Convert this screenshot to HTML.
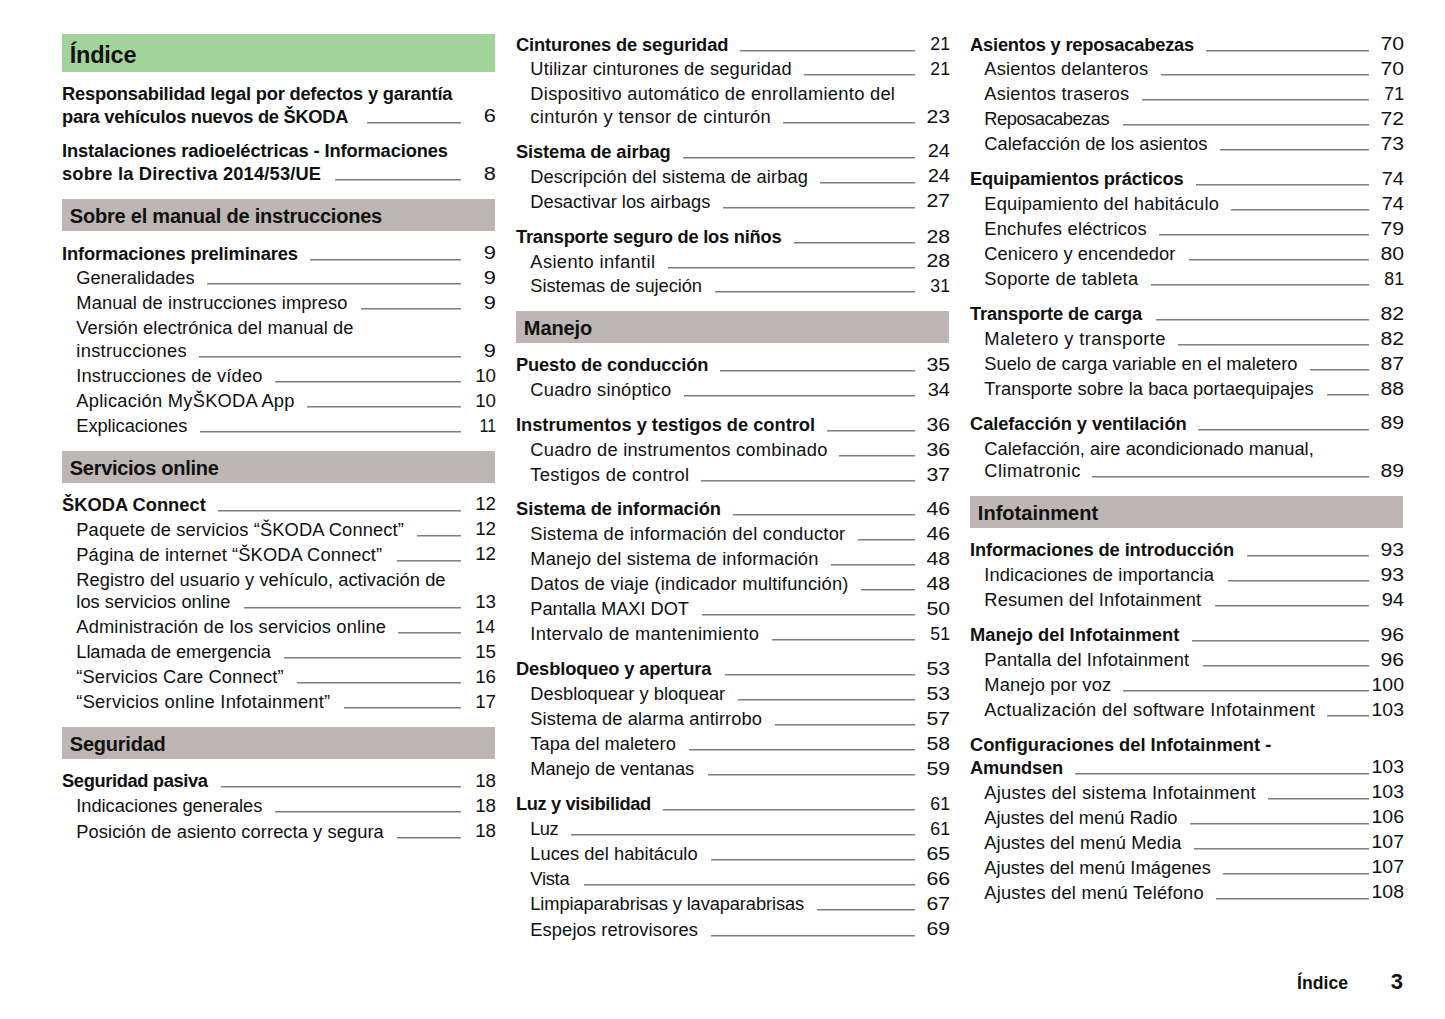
<!DOCTYPE html>
<html><head><meta charset="utf-8"><style>
html,body{margin:0;padding:0;background:#fff;}
body{width:1445px;height:1019px;position:relative;overflow:hidden;font-family:"Liberation Sans",sans-serif;color:#111;}
.t,.pg{position:absolute;white-space:nowrap;line-height:1;}
.pg{width:80px;text-align:right;transform-origin:100% 50%;}
.bx{position:absolute;}
.ld{position:absolute;height:2px;background:linear-gradient(#808080 50%,#bcbcbc 50%);}
</style></head><body>
<div class="bx" style="left:62px;top:34px;width:433px;height:38px;background:#a2d39b"></div>
<div class="bx" style="left:62px;top:199px;width:433px;height:32px;background:#bdb6b4"></div>
<div class="bx" style="left:62px;top:451px;width:433px;height:32px;background:#bdb6b4"></div>
<div class="bx" style="left:62px;top:727px;width:433px;height:32px;background:#bdb6b4"></div>
<div class="bx" style="left:516px;top:311px;width:433px;height:32px;background:#bdb6b4"></div>
<div class="bx" style="left:970px;top:496px;width:433px;height:32px;background:#bdb6b4"></div>
<div class="t" style="left:69.8px;top:43.61px;font-size:23.5px;font-weight:bold;letter-spacing:-0.240px;">Índice</div>
<div class="t" style="left:62px;top:85.41px;font-size:18.3px;font-weight:bold;letter-spacing:-0.200px;">Responsabilidad legal por defectos y garantía</div>
<div class="t" style="left:62px;top:107.71px;font-size:18.3px;font-weight:bold;letter-spacing:-0.283px;">para vehículos nuevos de ŠKODA</div>
<div class="t" style="left:62px;top:142.41px;font-size:18.3px;font-weight:bold;letter-spacing:-0.118px;">Instalaciones radioeléctricas - Informaciones</div>
<div class="t" style="left:62px;top:165.01px;font-size:18.3px;font-weight:bold;letter-spacing:0.179px;">sobre la Directiva 2014/53/UE</div>
<div class="t" style="left:69.8px;top:206.17px;font-size:20px;font-weight:bold;letter-spacing:-0.213px;">Sobre el manual de instrucciones</div>
<div class="t" style="left:62px;top:244.61px;font-size:18.3px;font-weight:bold;letter-spacing:-0.112px;">Informaciones preliminares</div>
<div class="t" style="left:76.3px;top:269.41px;font-size:18.3px;letter-spacing:-0.050px;">Generalidades</div>
<div class="t" style="left:76.3px;top:294.41px;font-size:18.3px;letter-spacing:0.133px;">Manual de instrucciones impreso</div>
<div class="t" style="left:76.3px;top:319.41px;font-size:18.3px;letter-spacing:0.087px;">Versión electrónica del manual de</div>
<div class="t" style="left:76.3px;top:341.91px;font-size:18.3px;letter-spacing:0.300px;">instrucciones</div>
<div class="t" style="left:76.3px;top:366.91px;font-size:18.3px;letter-spacing:0.152px;">Instrucciones de vídeo</div>
<div class="t" style="left:76.3px;top:391.91px;font-size:18.3px;letter-spacing:0.276px;">Aplicación MyŠKODA App</div>
<div class="t" style="left:76.3px;top:417.21px;font-size:18.3px;letter-spacing:-0.067px;">Explicaciones</div>
<div class="t" style="left:69.8px;top:457.67px;font-size:20px;font-weight:bold;letter-spacing:-0.293px;">Servicios online</div>
<div class="t" style="left:62px;top:495.71px;font-size:18.3px;font-weight:bold;letter-spacing:0.017px;">ŠKODA Connect</div>
<div class="t" style="left:76.3px;top:520.71px;font-size:18.3px;letter-spacing:0.126px;">Paquete de servicios “ŠKODA Connect”</div>
<div class="t" style="left:76.3px;top:545.71px;font-size:18.3px;letter-spacing:0.121px;">Página de internet “ŠKODA Connect”</div>
<div class="t" style="left:76.3px;top:570.71px;font-size:18.3px;letter-spacing:0.053px;">Registro del usuario y vehículo, activación de</div>
<div class="t" style="left:76.3px;top:593.21px;font-size:18.3px;letter-spacing:0.032px;">los servicios online</div>
<div class="t" style="left:76.3px;top:618.21px;font-size:18.3px;letter-spacing:0.157px;">Administración de los servicios online</div>
<div class="t" style="left:76.3px;top:643.21px;font-size:18.3px;letter-spacing:-0.080px;">Llamada de emergencia</div>
<div class="t" style="left:76.3px;top:668.21px;font-size:18.3px;letter-spacing:0.130px;">“Servicios Care Connect”</div>
<div class="t" style="left:76.3px;top:693.21px;font-size:18.3px;letter-spacing:0.267px;">“Servicios online Infotainment”</div>
<div class="t" style="left:69.8px;top:733.67px;font-size:20px;font-weight:bold;letter-spacing:-0.225px;">Seguridad</div>
<div class="t" style="left:62px;top:772.41px;font-size:18.3px;font-weight:bold;letter-spacing:-0.360px;">Seguridad pasiva</div>
<div class="t" style="left:76.3px;top:797.41px;font-size:18.3px;letter-spacing:-0.048px;">Indicaciones generales</div>
<div class="t" style="left:76.3px;top:822.61px;font-size:18.3px;letter-spacing:0.072px;">Posición de asiento correcta y segura</div>
<div class="t" style="left:516px;top:35.61px;font-size:18.3px;font-weight:bold;letter-spacing:-0.136px;">Cinturones de seguridad</div>
<div class="t" style="left:530.3px;top:60.41px;font-size:18.3px;letter-spacing:0.168px;">Utilizar cinturones de seguridad</div>
<div class="t" style="left:530.3px;top:85.41px;font-size:18.3px;letter-spacing:0.286px;">Dispositivo automático de enrollamiento del</div>
<div class="t" style="left:530.3px;top:107.91px;font-size:18.3px;letter-spacing:0.350px;">cinturón y tensor de cinturón</div>
<div class="t" style="left:516px;top:142.61px;font-size:18.3px;font-weight:bold;letter-spacing:-0.113px;">Sistema de airbag</div>
<div class="t" style="left:530.3px;top:167.61px;font-size:18.3px;letter-spacing:0.100px;">Descripción del sistema de airbag</div>
<div class="t" style="left:530.3px;top:192.61px;font-size:18.3px;letter-spacing:0.010px;">Desactivar los airbags</div>
<div class="t" style="left:516px;top:227.91px;font-size:18.3px;font-weight:bold;letter-spacing:-0.228px;">Transporte seguro de los niños</div>
<div class="t" style="left:530.3px;top:252.61px;font-size:18.3px;letter-spacing:0.387px;">Asiento infantil</div>
<div class="t" style="left:530.3px;top:277.41px;font-size:18.3px;letter-spacing:-0.053px;">Sistemas de sujeción</div>
<div class="t" style="left:523.8px;top:317.67px;font-size:20px;font-weight:bold;letter-spacing:-0.080px;">Manejo</div>
<div class="t" style="left:516px;top:356.01px;font-size:18.3px;font-weight:bold;letter-spacing:-0.137px;">Puesto de conducción</div>
<div class="t" style="left:530.3px;top:381.01px;font-size:18.3px;letter-spacing:0.240px;">Cuadro sinóptico</div>
<div class="t" style="left:516px;top:416.01px;font-size:18.3px;font-weight:bold;letter-spacing:-0.018px;">Instrumentos y testigos de control</div>
<div class="t" style="left:530.3px;top:441.01px;font-size:18.3px;letter-spacing:0.239px;">Cuadro de instrumentos combinado</div>
<div class="t" style="left:530.3px;top:466.01px;font-size:18.3px;letter-spacing:0.356px;">Testigos de control</div>
<div class="t" style="left:516px;top:500.21px;font-size:18.3px;font-weight:bold;letter-spacing:-0.057px;">Sistema de información</div>
<div class="t" style="left:530.3px;top:525.21px;font-size:18.3px;letter-spacing:0.257px;">Sistema de información del conductor</div>
<div class="t" style="left:530.3px;top:550.21px;font-size:18.3px;letter-spacing:0.175px;">Manejo del sistema de información</div>
<div class="t" style="left:530.3px;top:575.21px;font-size:18.3px;letter-spacing:0.216px;">Datos de viaje (indicador multifunción)</div>
<div class="t" style="left:530.3px;top:600.21px;font-size:18.3px;letter-spacing:-0.050px;">Pantalla MAXI DOT</div>
<div class="t" style="left:530.3px;top:625.21px;font-size:18.3px;letter-spacing:0.320px;">Intervalo de mantenimiento</div>
<div class="t" style="left:516px;top:660.21px;font-size:18.3px;font-weight:bold;letter-spacing:-0.130px;">Desbloqueo y apertura</div>
<div class="t" style="left:530.3px;top:685.21px;font-size:18.3px;letter-spacing:0.038px;">Desbloquear y bloquear</div>
<div class="t" style="left:530.3px;top:710.21px;font-size:18.3px;letter-spacing:0.077px;">Sistema de alarma antirrobo</div>
<div class="t" style="left:530.3px;top:735.21px;font-size:18.3px;letter-spacing:0.012px;">Tapa del maletero</div>
<div class="t" style="left:530.3px;top:760.21px;font-size:18.3px;letter-spacing:-0.047px;">Manejo de ventanas</div>
<div class="t" style="left:516px;top:795.21px;font-size:18.3px;font-weight:bold;letter-spacing:-0.375px;">Luz y visibilidad</div>
<div class="t" style="left:530.3px;top:820.21px;font-size:18.3px;letter-spacing:-0.600px;">Luz</div>
<div class="t" style="left:530.3px;top:845.21px;font-size:18.3px;letter-spacing:0.032px;">Luces del habitáculo</div>
<div class="t" style="left:530.3px;top:870.21px;font-size:18.3px;letter-spacing:-0.250px;">Vista</div>
<div class="t" style="left:530.3px;top:895.21px;font-size:18.3px;letter-spacing:-0.112px;">Limpiaparabrisas y lavaparabrisas</div>
<div class="t" style="left:530.3px;top:920.61px;font-size:18.3px;letter-spacing:0.105px;">Espejos retrovisores</div>
<div class="t" style="left:970px;top:35.61px;font-size:18.3px;font-weight:bold;letter-spacing:-0.191px;">Asientos y reposacabezas</div>
<div class="t" style="left:984.3px;top:60.41px;font-size:18.3px;letter-spacing:0.178px;">Asientos delanteros</div>
<div class="t" style="left:984.3px;top:85.41px;font-size:18.3px;letter-spacing:0.225px;">Asientos traseros</div>
<div class="t" style="left:984.3px;top:110.41px;font-size:18.3px;letter-spacing:-0.483px;">Reposacabezas</div>
<div class="t" style="left:984.3px;top:135.41px;font-size:18.3px;letter-spacing:0.023px;">Calefacción de los asientos</div>
<div class="t" style="left:970px;top:170.21px;font-size:18.3px;font-weight:bold;letter-spacing:-0.164px;">Equipamientos prácticos</div>
<div class="t" style="left:984.3px;top:195.21px;font-size:18.3px;letter-spacing:0.185px;">Equipamiento del habitáculo</div>
<div class="t" style="left:984.3px;top:220.21px;font-size:18.3px;letter-spacing:0.211px;">Enchufes eléctricos</div>
<div class="t" style="left:984.3px;top:245.21px;font-size:18.3px;letter-spacing:0.100px;">Cenicero y encendedor</div>
<div class="t" style="left:984.3px;top:270.21px;font-size:18.3px;letter-spacing:0.259px;">Soporte de tableta</div>
<div class="t" style="left:970px;top:305.01px;font-size:18.3px;font-weight:bold;letter-spacing:-0.144px;">Transporte de carga</div>
<div class="t" style="left:984.3px;top:330.01px;font-size:18.3px;letter-spacing:0.420px;">Maletero y transporte</div>
<div class="t" style="left:984.3px;top:355.01px;font-size:18.3px;letter-spacing:0.005px;">Suelo de carga variable en el maletero</div>
<div class="t" style="left:984.3px;top:380.01px;font-size:18.3px;letter-spacing:0.047px;">Transporte sobre la baca portaequipajes</div>
<div class="t" style="left:970px;top:414.81px;font-size:18.3px;font-weight:bold;letter-spacing:-0.075px;">Calefacción y ventilación</div>
<div class="t" style="left:984.3px;top:439.81px;font-size:18.3px;letter-spacing:0.005px;">Calefacción, aire acondicionado manual,</div>
<div class="t" style="left:984.3px;top:462.31px;font-size:18.3px;letter-spacing:0.460px;">Climatronic</div>
<div class="t" style="left:977.8px;top:503.17px;font-size:20px;font-weight:bold;letter-spacing:0.036px;">Infotainment</div>
<div class="t" style="left:970px;top:541.41px;font-size:18.3px;font-weight:bold;letter-spacing:-0.107px;">Informaciones de introducción</div>
<div class="t" style="left:984.3px;top:566.41px;font-size:18.3px;letter-spacing:0.115px;">Indicaciones de importancia</div>
<div class="t" style="left:984.3px;top:591.41px;font-size:18.3px;letter-spacing:0.148px;">Resumen del Infotainment</div>
<div class="t" style="left:970px;top:626.41px;font-size:18.3px;font-weight:bold;">Manejo del Infotainment</div>
<div class="t" style="left:984.3px;top:651.41px;font-size:18.3px;letter-spacing:0.150px;">Pantalla del Infotainment</div>
<div class="t" style="left:984.3px;top:676.41px;font-size:18.3px;letter-spacing:0.138px;">Manejo por voz</div>
<div class="t" style="left:984.3px;top:701.41px;font-size:18.3px;letter-spacing:0.353px;">Actualización del software Infotainment</div>
<div class="t" style="left:970px;top:736.21px;font-size:18.3px;font-weight:bold;letter-spacing:-0.012px;">Configuraciones del Infotainment -</div>
<div class="t" style="left:970px;top:758.71px;font-size:18.3px;font-weight:bold;letter-spacing:-0.171px;">Amundsen</div>
<div class="t" style="left:984.3px;top:783.71px;font-size:18.3px;letter-spacing:0.258px;">Ajustes del sistema Infotainment</div>
<div class="t" style="left:984.3px;top:808.71px;font-size:18.3px;">Ajustes del menú Radio</div>
<div class="t" style="left:984.3px;top:833.71px;font-size:18.3px;letter-spacing:0.095px;">Ajustes del menú Media</div>
<div class="t" style="left:984.3px;top:858.71px;font-size:18.3px;letter-spacing:0.042px;">Ajustes del menú Imágenes</div>
<div class="t" style="left:984.3px;top:883.71px;font-size:18.3px;letter-spacing:0.217px;">Ajustes del menú Teléfono</div>
<div class="t" style="left:1297px;top:975.40px;font-size:17.6px;font-weight:bold;letter-spacing:0.040px;">Índice</div>
<div class="ld" style="left:366.7px;top:121.7px;width:94.0px"></div>
<div class="ld" style="left:334.6px;top:179.0px;width:126.1px"></div>
<div class="ld" style="left:310.0px;top:258.6px;width:150.7px"></div>
<div class="ld" style="left:206.5px;top:283.4px;width:254.2px"></div>
<div class="ld" style="left:360.5px;top:308.4px;width:100.2px"></div>
<div class="ld" style="left:199.1px;top:355.9px;width:261.6px"></div>
<div class="ld" style="left:274.6px;top:380.9px;width:186.1px"></div>
<div class="ld" style="left:306.9px;top:405.9px;width:153.8px"></div>
<div class="ld" style="left:199.7px;top:431.2px;width:261.0px"></div>
<div class="ld" style="left:218.2px;top:509.7px;width:242.5px"></div>
<div class="ld" style="left:416.9px;top:534.7px;width:43.8px"></div>
<div class="ld" style="left:396.9px;top:559.7px;width:63.8px"></div>
<div class="ld" style="left:243.5px;top:607.2px;width:217.2px"></div>
<div class="ld" style="left:398.4px;top:632.2px;width:62.3px"></div>
<div class="ld" style="left:284.4px;top:657.2px;width:176.3px"></div>
<div class="ld" style="left:296.8px;top:682.2px;width:163.9px"></div>
<div class="ld" style="left:343.9px;top:707.2px;width:116.8px"></div>
<div class="ld" style="left:221.3px;top:786.4px;width:239.4px"></div>
<div class="ld" style="left:275.2px;top:811.4px;width:185.5px"></div>
<div class="ld" style="left:396.9px;top:836.6px;width:63.8px"></div>
<div class="ld" style="left:740.0px;top:49.6px;width:174.7px"></div>
<div class="ld" style="left:804.0px;top:74.4px;width:110.7px"></div>
<div class="ld" style="left:783.1px;top:121.9px;width:131.6px"></div>
<div class="ld" style="left:683.0px;top:156.6px;width:231.7px"></div>
<div class="ld" style="left:820.0px;top:181.6px;width:94.7px"></div>
<div class="ld" style="left:723.0px;top:206.6px;width:191.7px"></div>
<div class="ld" style="left:793.9px;top:241.9px;width:120.8px"></div>
<div class="ld" style="left:667.6px;top:266.6px;width:247.1px"></div>
<div class="ld" style="left:714.7px;top:291.4px;width:200.0px"></div>
<div class="ld" style="left:720.2px;top:370.0px;width:194.5px"></div>
<div class="ld" style="left:684.1px;top:395.0px;width:230.6px"></div>
<div class="ld" style="left:826.6px;top:430.0px;width:88.1px"></div>
<div class="ld" style="left:839.4px;top:455.0px;width:75.3px"></div>
<div class="ld" style="left:700.6px;top:480.0px;width:214.1px"></div>
<div class="ld" style="left:732.9px;top:514.2px;width:181.8px"></div>
<div class="ld" style="left:858.2px;top:539.2px;width:56.5px"></div>
<div class="ld" style="left:830.8px;top:564.2px;width:83.9px"></div>
<div class="ld" style="left:861.0px;top:589.2px;width:53.7px"></div>
<div class="ld" style="left:702.0px;top:614.2px;width:212.7px"></div>
<div class="ld" style="left:771.7px;top:639.2px;width:143.0px"></div>
<div class="ld" style="left:725.2px;top:674.2px;width:189.5px"></div>
<div class="ld" style="left:738.4px;top:699.2px;width:176.3px"></div>
<div class="ld" style="left:775.4px;top:724.2px;width:139.3px"></div>
<div class="ld" style="left:689.2px;top:749.2px;width:225.5px"></div>
<div class="ld" style="left:707.6px;top:774.2px;width:207.1px"></div>
<div class="ld" style="left:663.0px;top:809.2px;width:251.7px"></div>
<div class="ld" style="left:570.6px;top:834.2px;width:344.1px"></div>
<div class="ld" style="left:710.7px;top:859.2px;width:204.0px"></div>
<div class="ld" style="left:583.8px;top:884.2px;width:330.9px"></div>
<div class="ld" style="left:817.0px;top:909.2px;width:97.7px"></div>
<div class="ld" style="left:710.7px;top:934.6px;width:204.0px"></div>
<div class="ld" style="left:1206.3px;top:49.6px;width:162.4px"></div>
<div class="ld" style="left:1160.7px;top:74.4px;width:208.0px"></div>
<div class="ld" style="left:1141.6px;top:99.4px;width:227.1px"></div>
<div class="ld" style="left:1122.5px;top:124.4px;width:246.2px"></div>
<div class="ld" style="left:1220.2px;top:149.4px;width:148.5px"></div>
<div class="ld" style="left:1196.1px;top:184.2px;width:172.6px"></div>
<div class="ld" style="left:1231.0px;top:209.2px;width:137.7px"></div>
<div class="ld" style="left:1159.2px;top:234.2px;width:209.5px"></div>
<div class="ld" style="left:1188.7px;top:259.2px;width:180.0px"></div>
<div class="ld" style="left:1150.9px;top:284.2px;width:217.8px"></div>
<div class="ld" style="left:1156.0px;top:319.0px;width:212.7px"></div>
<div class="ld" style="left:1178.3px;top:344.0px;width:190.4px"></div>
<div class="ld" style="left:1309.7px;top:369.0px;width:59.0px"></div>
<div class="ld" style="left:1326.6px;top:394.0px;width:42.1px"></div>
<div class="ld" style="left:1198.4px;top:428.8px;width:170.3px"></div>
<div class="ld" style="left:1092.2px;top:476.3px;width:276.5px"></div>
<div class="ld" style="left:1246.9px;top:555.4px;width:121.8px"></div>
<div class="ld" style="left:1227.8px;top:580.4px;width:140.9px"></div>
<div class="ld" style="left:1215.0px;top:605.4px;width:153.7px"></div>
<div class="ld" style="left:1192.4px;top:640.4px;width:176.3px"></div>
<div class="ld" style="left:1202.6px;top:665.4px;width:166.1px"></div>
<div class="ld" style="left:1123.1px;top:690.4px;width:245.6px"></div>
<div class="ld" style="left:1327.3px;top:715.4px;width:41.4px"></div>
<div class="ld" style="left:1075.4px;top:772.7px;width:293.3px"></div>
<div class="ld" style="left:1267.9px;top:797.7px;width:100.8px"></div>
<div class="ld" style="left:1190.3px;top:822.7px;width:178.4px"></div>
<div class="ld" style="left:1194.0px;top:847.7px;width:174.7px"></div>
<div class="ld" style="left:1223.2px;top:872.7px;width:145.5px"></div>
<div class="ld" style="left:1215.5px;top:897.7px;width:153.2px"></div>
<div class="pg" style="left:416.00px;top:108.30px;font-size:17.6px;transform:scaleX(1.238);">6</div>
<div class="pg" style="left:416.00px;top:165.60px;font-size:17.6px;transform:scaleX(1.238);">8</div>
<div class="pg" style="left:416.00px;top:245.20px;font-size:17.6px;transform:scaleX(1.238);">9</div>
<div class="pg" style="left:416.00px;top:270.00px;font-size:17.6px;transform:scaleX(1.238);">9</div>
<div class="pg" style="left:416.00px;top:295.00px;font-size:17.6px;transform:scaleX(1.238);">9</div>
<div class="pg" style="left:416.00px;top:342.50px;font-size:17.6px;transform:scaleX(1.238);">9</div>
<div class="pg" style="left:416.00px;top:367.50px;font-size:17.6px;transform:scaleX(1.065);">10</div>
<div class="pg" style="left:416.00px;top:392.50px;font-size:17.6px;transform:scaleX(1.065);">10</div>
<div class="pg" style="left:416.00px;top:417.80px;font-size:17.6px;transform:scaleX(0.906);">11</div>
<div class="pg" style="left:416.00px;top:496.30px;font-size:17.6px;transform:scaleX(1.065);">12</div>
<div class="pg" style="left:416.00px;top:521.30px;font-size:17.6px;transform:scaleX(1.065);">12</div>
<div class="pg" style="left:416.00px;top:546.30px;font-size:17.6px;transform:scaleX(1.065);">12</div>
<div class="pg" style="left:416.00px;top:593.80px;font-size:17.6px;transform:scaleX(1.065);">13</div>
<div class="pg" style="left:415.00px;top:618.80px;font-size:17.6px;transform:scaleX(1.006);">14</div>
<div class="pg" style="left:416.00px;top:643.80px;font-size:17.6px;transform:scaleX(1.065);">15</div>
<div class="pg" style="left:416.00px;top:668.80px;font-size:17.6px;transform:scaleX(1.065);">16</div>
<div class="pg" style="left:416.00px;top:693.80px;font-size:17.6px;transform:scaleX(1.065);">17</div>
<div class="pg" style="left:416.00px;top:773.00px;font-size:17.6px;transform:scaleX(1.065);">18</div>
<div class="pg" style="left:416.00px;top:798.00px;font-size:17.6px;transform:scaleX(1.065);">18</div>
<div class="pg" style="left:416.00px;top:823.20px;font-size:17.6px;transform:scaleX(1.065);">18</div>
<div class="pg" style="left:870.00px;top:36.20px;font-size:17.6px;transform:scaleX(1.006);">21</div>
<div class="pg" style="left:870.00px;top:61.00px;font-size:17.6px;transform:scaleX(1.006);">21</div>
<div class="pg" style="left:870.00px;top:108.50px;font-size:17.6px;transform:scaleX(1.206);">23</div>
<div class="pg" style="left:870.00px;top:143.20px;font-size:17.6px;transform:scaleX(1.142);">24</div>
<div class="pg" style="left:870.00px;top:168.20px;font-size:17.6px;transform:scaleX(1.142);">24</div>
<div class="pg" style="left:870.00px;top:193.20px;font-size:17.6px;transform:scaleX(1.206);">27</div>
<div class="pg" style="left:870.00px;top:228.50px;font-size:17.6px;transform:scaleX(1.206);">28</div>
<div class="pg" style="left:870.00px;top:253.20px;font-size:17.6px;transform:scaleX(1.206);">28</div>
<div class="pg" style="left:870.00px;top:278.00px;font-size:17.6px;transform:scaleX(1.006);">31</div>
<div class="pg" style="left:870.00px;top:356.60px;font-size:17.6px;transform:scaleX(1.206);">35</div>
<div class="pg" style="left:870.00px;top:381.60px;font-size:17.6px;transform:scaleX(1.142);">34</div>
<div class="pg" style="left:870.00px;top:416.60px;font-size:17.6px;transform:scaleX(1.206);">36</div>
<div class="pg" style="left:870.00px;top:441.60px;font-size:17.6px;transform:scaleX(1.206);">36</div>
<div class="pg" style="left:870.00px;top:466.60px;font-size:17.6px;transform:scaleX(1.206);">37</div>
<div class="pg" style="left:870.00px;top:500.80px;font-size:17.6px;transform:scaleX(1.206);">46</div>
<div class="pg" style="left:870.00px;top:525.80px;font-size:17.6px;transform:scaleX(1.206);">46</div>
<div class="pg" style="left:870.00px;top:550.80px;font-size:17.6px;transform:scaleX(1.206);">48</div>
<div class="pg" style="left:870.00px;top:575.80px;font-size:17.6px;transform:scaleX(1.206);">48</div>
<div class="pg" style="left:870.00px;top:600.80px;font-size:17.6px;transform:scaleX(1.206);">50</div>
<div class="pg" style="left:870.00px;top:625.80px;font-size:17.6px;transform:scaleX(1.006);">51</div>
<div class="pg" style="left:870.00px;top:660.80px;font-size:17.6px;transform:scaleX(1.206);">53</div>
<div class="pg" style="left:870.00px;top:685.80px;font-size:17.6px;transform:scaleX(1.206);">53</div>
<div class="pg" style="left:870.00px;top:710.80px;font-size:17.6px;transform:scaleX(1.206);">57</div>
<div class="pg" style="left:870.00px;top:735.80px;font-size:17.6px;transform:scaleX(1.206);">58</div>
<div class="pg" style="left:870.00px;top:760.80px;font-size:17.6px;transform:scaleX(1.206);">59</div>
<div class="pg" style="left:870.00px;top:795.80px;font-size:17.6px;transform:scaleX(1.006);">61</div>
<div class="pg" style="left:870.00px;top:820.80px;font-size:17.6px;transform:scaleX(1.006);">61</div>
<div class="pg" style="left:870.00px;top:845.80px;font-size:17.6px;transform:scaleX(1.206);">65</div>
<div class="pg" style="left:870.00px;top:870.80px;font-size:17.6px;transform:scaleX(1.206);">66</div>
<div class="pg" style="left:870.00px;top:895.80px;font-size:17.6px;transform:scaleX(1.206);">67</div>
<div class="pg" style="left:870.00px;top:921.20px;font-size:17.6px;transform:scaleX(1.206);">69</div>
<div class="pg" style="left:1324.00px;top:36.20px;font-size:17.6px;transform:scaleX(1.206);">70</div>
<div class="pg" style="left:1324.00px;top:61.00px;font-size:17.6px;transform:scaleX(1.206);">70</div>
<div class="pg" style="left:1324.00px;top:86.00px;font-size:17.6px;transform:scaleX(1.006);">71</div>
<div class="pg" style="left:1324.00px;top:111.00px;font-size:17.6px;transform:scaleX(1.206);">72</div>
<div class="pg" style="left:1324.00px;top:136.00px;font-size:17.6px;transform:scaleX(1.206);">73</div>
<div class="pg" style="left:1324.00px;top:170.80px;font-size:17.6px;transform:scaleX(1.142);">74</div>
<div class="pg" style="left:1324.00px;top:195.80px;font-size:17.6px;transform:scaleX(1.142);">74</div>
<div class="pg" style="left:1324.00px;top:220.80px;font-size:17.6px;transform:scaleX(1.206);">79</div>
<div class="pg" style="left:1324.00px;top:245.80px;font-size:17.6px;transform:scaleX(1.206);">80</div>
<div class="pg" style="left:1324.00px;top:270.80px;font-size:17.6px;transform:scaleX(1.006);">81</div>
<div class="pg" style="left:1324.00px;top:305.60px;font-size:17.6px;transform:scaleX(1.206);">82</div>
<div class="pg" style="left:1324.00px;top:330.60px;font-size:17.6px;transform:scaleX(1.206);">82</div>
<div class="pg" style="left:1324.00px;top:355.60px;font-size:17.6px;transform:scaleX(1.206);">87</div>
<div class="pg" style="left:1324.00px;top:380.60px;font-size:17.6px;transform:scaleX(1.206);">88</div>
<div class="pg" style="left:1324.00px;top:415.40px;font-size:17.6px;transform:scaleX(1.206);">89</div>
<div class="pg" style="left:1324.00px;top:462.90px;font-size:17.6px;transform:scaleX(1.206);">89</div>
<div class="pg" style="left:1324.00px;top:542.00px;font-size:17.6px;transform:scaleX(1.206);">93</div>
<div class="pg" style="left:1324.00px;top:567.00px;font-size:17.6px;transform:scaleX(1.206);">93</div>
<div class="pg" style="left:1324.00px;top:592.00px;font-size:17.6px;transform:scaleX(1.142);">94</div>
<div class="pg" style="left:1324.00px;top:627.00px;font-size:17.6px;transform:scaleX(1.206);">96</div>
<div class="pg" style="left:1324.00px;top:652.00px;font-size:17.6px;transform:scaleX(1.206);">96</div>
<div class="pg" style="left:1324.00px;top:677.00px;font-size:17.6px;transform:scaleX(1.107);">100</div>
<div class="pg" style="left:1324.00px;top:702.00px;font-size:17.6px;transform:scaleX(1.107);">103</div>
<div class="pg" style="left:1324.00px;top:759.30px;font-size:17.6px;transform:scaleX(1.107);">103</div>
<div class="pg" style="left:1324.00px;top:784.30px;font-size:17.6px;transform:scaleX(1.107);">103</div>
<div class="pg" style="left:1324.00px;top:809.30px;font-size:17.6px;transform:scaleX(1.107);">106</div>
<div class="pg" style="left:1324.00px;top:834.30px;font-size:17.6px;transform:scaleX(1.107);">107</div>
<div class="pg" style="left:1324.00px;top:859.30px;font-size:17.6px;transform:scaleX(1.107);">107</div>
<div class="pg" style="left:1324.00px;top:884.30px;font-size:17.6px;transform:scaleX(1.107);">108</div>
<div class="pg" style="left:1323.00px;top:971.08px;font-size:22px;font-weight:bold;">3</div>
</body></html>
